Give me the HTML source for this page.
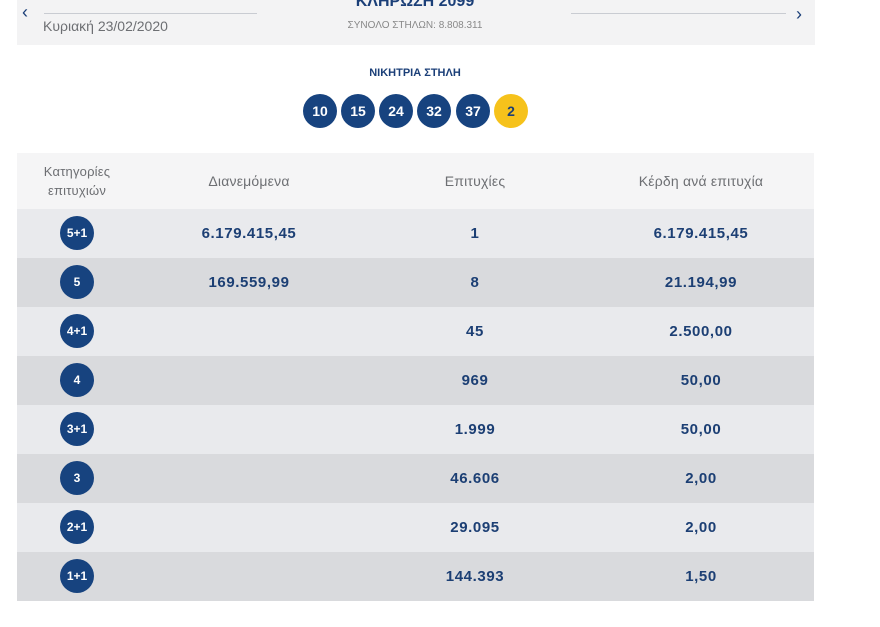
<!DOCTYPE html>
<html><head><meta charset="utf-8"><style>
body{margin:0;width:880px;height:627px;background:#fff;font-family:"Liberation Sans","DejaVu Sans",sans-serif;position:relative;overflow:hidden}
.a{position:absolute}
.ban{left:17px;top:0;width:798px;height:45px;background:#f3f3f4}
.line{height:1px;background:#c9ccd2;top:13px}
.ball{position:absolute;top:94px;width:34px;height:34px;border-radius:50%;background:#17437f;color:#fff;font-weight:bold;font-size:14px;text-align:center;line-height:34px}
.tbl{left:17px;top:153px;width:797px}
.row{position:relative;height:49px;color:#1c3f74;font-weight:bold;font-size:15px;letter-spacing:0.6px}
.row div{position:absolute;top:0;line-height:49px;text-align:center;width:200px}
.c1{left:-40px}.c2{left:132px}.c3{left:358px}.c4{left:584px}
.cat{position:absolute;left:43px;top:7px;width:34px;height:34px;border-radius:50%;background:#17437f;color:#fff;font-size:12px;letter-spacing:0;text-align:center;line-height:34px;font-weight:bold}
.hd{height:56px;background:#f5f5f6;color:#6d6f73;font-weight:normal;font-size:14px;letter-spacing:0.2px}
.hd div{line-height:56px}
</style></head><body>
<div class="a ban"></div>
<div class="a" style="left:22px;top:2px;color:#1b3f78;font-size:18px">‹</div>
<div class="a" style="left:796px;top:4px;color:#1b3f78;font-size:18px">›</div>
<div class="a line" style="left:44px;width:213px"></div>
<div class="a line" style="left:571px;width:215px"></div>
<div class="a" style="left:43px;top:18px;color:#6d6f73;font-size:14px">Κυριακή 23/02/2020</div>
<div class="a" style="left:340px;top:-7px;width:150px;text-align:center;color:#1b3f78;font-size:16px;font-weight:bold">ΚΛΗΡΩΣΗ 2099</div>
<div class="a" style="left:320px;top:20px;width:190px;text-align:center;color:#888;font-size:10px">ΣΥΝΟΛΟ ΣΤΗΛΩΝ: 8.808.311</div>
<div class="a" style="left:340px;top:67px;width:150px;text-align:center;color:#1b3f78;font-size:11px;font-weight:bold">ΝΙΚΗΤΡΙΑ ΣΤΗΛΗ</div>
<div class="ball" style="left:303px">10</div>
<div class="ball" style="left:341px">15</div>
<div class="ball" style="left:379px">24</div>
<div class="ball" style="left:417px">32</div>
<div class="ball" style="left:456px">37</div>
<div class="ball" style="left:494px;background:#f6c21b;color:#1c3f74">2</div>
<div class="a tbl">
<div class="row hd"><div class="c1" style="line-height:19px;top:9px;font-size:13px">Κατηγορίες<br>επιτυχιών</div><div class="c2">Διανεμόμενα</div><div class="c3">Επιτυχίες</div><div class="c4">Κέρδη ανά επιτυχία</div></div>
<div class="row" style="background:#e9eaed"><span class="cat">5+1</span><div class="c2">6.179.415,45</div><div class="c3">1</div><div class="c4">6.179.415,45</div></div>
<div class="row" style="background:#d9dadd"><span class="cat">5</span><div class="c2">169.559,99</div><div class="c3">8</div><div class="c4">21.194,99</div></div>
<div class="row" style="background:#e9eaed"><span class="cat">4+1</span><div class="c3">45</div><div class="c4">2.500,00</div></div>
<div class="row" style="background:#d9dadd"><span class="cat">4</span><div class="c3">969</div><div class="c4">50,00</div></div>
<div class="row" style="background:#e9eaed"><span class="cat">3+1</span><div class="c3">1.999</div><div class="c4">50,00</div></div>
<div class="row" style="background:#d9dadd"><span class="cat">3</span><div class="c3">46.606</div><div class="c4">2,00</div></div>
<div class="row" style="background:#e9eaed"><span class="cat">2+1</span><div class="c3">29.095</div><div class="c4">2,00</div></div>
<div class="row" style="background:#d9dadd"><span class="cat">1+1</span><div class="c3">144.393</div><div class="c4">1,50</div></div>
</div>
</body></html>
